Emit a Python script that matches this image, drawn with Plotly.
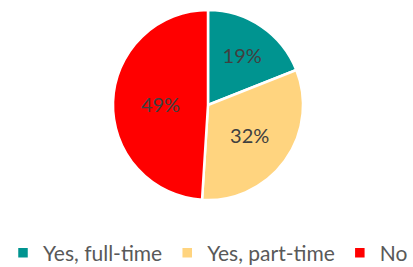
import plotly.graph_objects as go

labels = ["Yes, full-time", "Yes, part-time", "No"]
values = [19, 32, 49]
colors = ["#009490", "#FFD47F", "#FF0000"]

fig = go.Figure(go.Pie(
    labels=labels,
    values=values,
    sort=False,
    direction="clockwise",
    rotation=0,
    marker=dict(colors=colors, line=dict(color="white", width=2.5)),
    textinfo="percent",
    texttemplate="%{percent:.0%}",
    textposition="inside",
    insidetextfont=dict(color="#404040", size=20, family="Lato"),
    hoverinfo="label+percent",
    domain=dict(x=[0, 1], y=[0, 1]),
))

fig.update_layout(
    width=413, height=267,
    margin=dict(l=3, r=0, t=10, b=67, autoexpand=False),
    paper_bgcolor="white",
    plot_bgcolor="white",
    showlegend=True,
    legend=dict(
        orientation="h",
        x=0.5, xanchor="center",
        y=-53/190, yanchor="middle",
        font=dict(color="#595959", size=21, family="Lato"),
        itemwidth=30,
        tracegroupgap=0,
    ),
)

fig.write_html(
    "out.html",
    config={"displayModeBar": False},
    post_script="document.body.style.margin='0';document.body.style.overflow='hidden';",
)
